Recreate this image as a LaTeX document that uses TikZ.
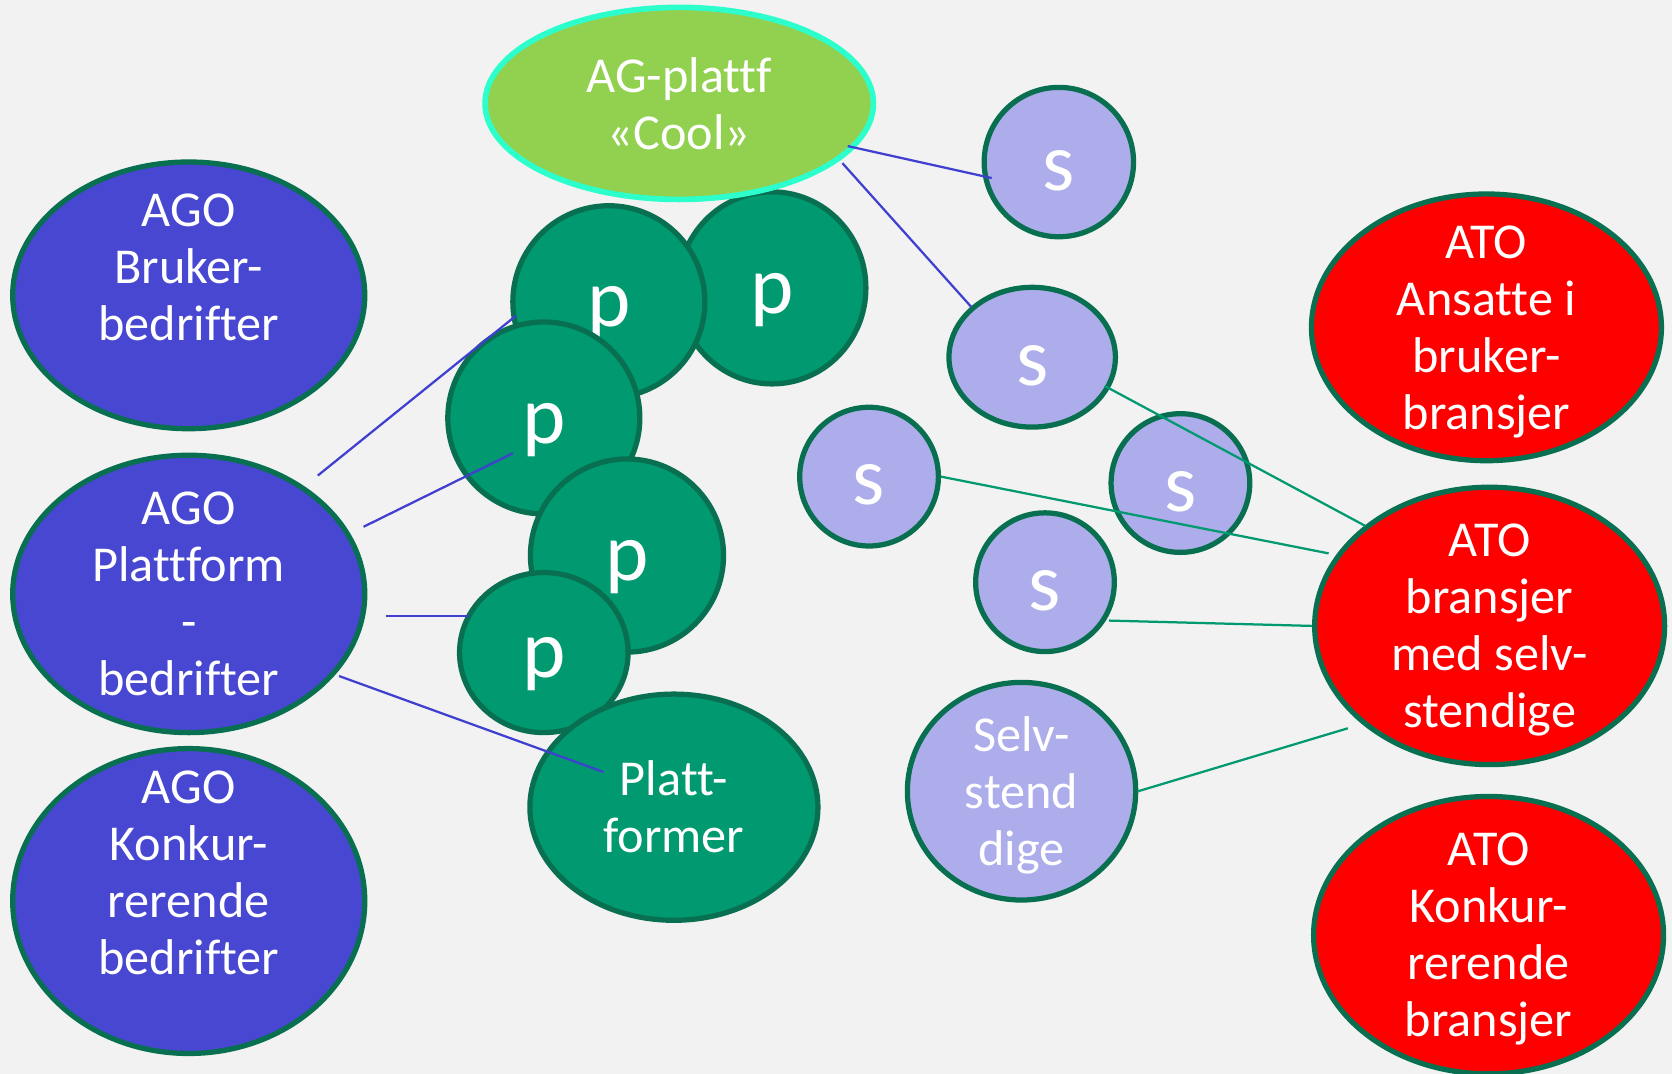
\documentclass[tikz,border=0pt]{standalone}
\usepackage{amsmath}
\usepackage{fontspec}
\setmainfont{Carlito}[Ligatures=CommonOff]
\usepackage{tikz}
\usetikzlibrary{shapes.geometric}
\usetikzlibrary{calc}
\definecolor{bggray}{RGB}{242,242,242}
\definecolor{agoblue}{RGB}{71,71,209}
\definecolor{rimgreen}{RGB}{8,112,80}
\definecolor{platgreen}{RGB}{0,153,112}
\definecolor{selvlilac}{RGB}{173,173,235}
\definecolor{coolgreen}{RGB}{146,208,80}
\definecolor{coolrim}{RGB}{44,255,204}
\definecolor{atored}{RGB}{255,0,0}
\definecolor{linkblue}{RGB}{64,64,208}

\begin{document}
\begin{tikzpicture}[
            x = 0.01cm, % one unit per pixel
            y = -0.01cm % y counts downwards
        ]

        \tikzstyle{oval}=[
            ellipse,
            draw = rimgreen,
            line width = 1.4pt,
            inner sep = -6pt,
            text = white
        ]
        \tikzstyle{lines}=[align = center, font = \fontsize{13.4pt}{15.2pt}\selectfont]
        \tikzstyle{ago}=[oval, lines, fill = agoblue, minimum width = 3.3cm]
        \tikzstyle{ato}=[oval, lines, fill = atored, minimum width = 3.28cm]
        \tikzstyle{pnode}=[oval, fill = platgreen, font = \fontsize{22pt}{26pt}\selectfont, text height = 18pt, text depth = 4.6pt]
        \tikzstyle{snode}=[oval, fill = selvlilac, font = \fontsize{22pt}{26pt}\selectfont, text height = 15pt, text depth = 0pt]
        \tikzstyle{blueline}=[draw = linkblue, line width = 0.6pt]
        \tikzstyle{greenline}=[draw = platgreen, line width = 0.6pt]

        \fill[bggray] (0,0) rectangle (1568,1007);
        \useasboundingbox (0,0) rectangle (1568,1007);

        % employers
        \node[ago, minimum height = 2.5cm] (agoB) at (177,277) {AGO\\Bruker-\\bedrifter\\\mbox{}};
        \node[ago, minimum height = 2.6cm] (agoP) at (177,557) {AGO\\Plattform\\-\\bedrifter};
        \node[ago, minimum height = 2.6cm] (agoK) at (177,845) {AGO\\Konkur-\\rerende\\bedrifter\\\mbox{}};

        % platforms
        \node[pnode, minimum width = 1.76cm, minimum height = 1.8cm] (p2) at (724,270) {p};
        \node[pnode, minimum size = 1.8cm] (p1) at (571,283) {p};
        \node[pnode, minimum size = 1.8cm] (p3) at (510,392) {p};
        \node[pnode, minimum size = 1.81cm] (p4) at (588,521) {p};
        \node[pnode, minimum width = 1.58cm, minimum height = 1.5cm] (p5) at (510,612) {p};
        \node[oval, lines, fill = platgreen, minimum width = 2.7cm, minimum height = 2.12cm] (plf) at (632,757) {Platt-\\former};

        \node[oval, lines, draw = coolrim, line width = 1.5pt, fill = coolgreen, minimum width = 3.64cm, minimum height = 1.8cm] (ag) at (637,97) {AG-plattf\\«Cool»};

        % self-employed
        \node[snode, minimum size = 1.4cm] (s1) at (993,152) {s};
        \node[snode, minimum width = 1.56cm, minimum height = 1.31cm] (s2) at (968,335) {s};
        \node[snode, minimum size = 1.3cm] (s3) at (815,447) {s};
        \node[snode, minimum size = 1.3cm] (s4) at (1107,453) {s};
        \node[snode, minimum size = 1.3cm] (s5) at (980,546) {s};
        \node[oval, lines, fill = selvlilac, minimum width = 2.14cm, minimum height = 2.04cm] (selv) at (958,742) {Selv-\\stend\\\smash[b]{dige}};

        % employees
        \node[ato, minimum height = 2.5cm] (atoA) at (1394,307) {ATO\\Ansatte i\\bruker-\\\smash[b]{bransjer}};
        \node[ato, minimum height = 2.6cm] (atoB) at (1397,587) {ATO\\bransjer\\med selv-\\\smash[b]{stendige}};
        \node[ato, minimum height = 2.6cm] (atoC) at (1396,877) {ATO\\Konkur-\\rerende\\\smash[b]{bransjer}};

        % links
        \path[blueline] ($(agoP)+(121,-111)$) edge ($(p1)+(-87,13)$);
        \path[blueline] ($(agoP)+(164,-63)$) edge ($(p3)+(-29,33)$);
        \path[blueline] ($(agoP)+(185,21)$) edge ($(p5)+(-70,-34)$);
        \path[blueline] ($(agoP)+(141,77)$) edge ($(plf)+(-66,-33)$);
        \path[blueline] ($(ag)+(158,40)$) edge ($(s1)+(-63,15)$);
        \path[blueline] ($(ag)+(153,56)$) edge ($(s2)+(-57,-47)$);

        \path[greenline] ($(s2)+(68,27)$) edge ($(atoB)+(-117,-94)$);
        \path[greenline] (s3.east) edge ($(atoB)+(-151,-68)$);
        \path[greenline] ($(s5)+(60,36)$) edge (atoB.west);
        \path[greenline] (selv.east) edge ($(atoB)+(-133,96)$);

\end{tikzpicture}
\end{document}
